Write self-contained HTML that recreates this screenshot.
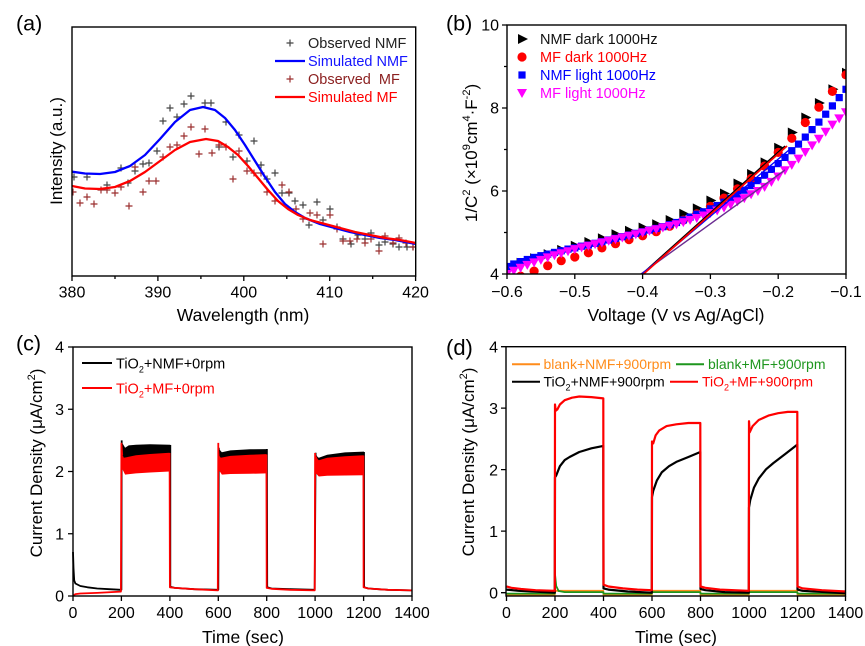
<!DOCTYPE html>
<html><head><meta charset="utf-8"><style>
html,body{margin:0;padding:0;background:#fff;}
svg{display:block;}
text{font-family:"Liberation Sans",Arial,sans-serif;}
</style></head><body>
<svg width="865" height="646" viewBox="0 0 865 646" xmlns="http://www.w3.org/2000/svg">
<defs>
<clipPath id="cb"><rect x="507" y="25" width="339" height="249"/></clipPath>
<clipPath id="ca"><rect x="72" y="27" width="344" height="249"/></clipPath>
<polygon id="tr" points="-4,-5 6,0 -4,5" fill="#000"/>
<circle id="ci" r="4.6" fill="#ff0000"/>
<rect id="sq" x="-3.6" y="-3.6" width="7.2" height="7.2" fill="#0000ff"/>
<polygon id="td" points="-5,-4 5,-4 0,5" fill="#ff00ff"/>
</defs>

<!-- ================= PANEL A ================= -->
<text x="16" y="30.5" font-size="21.5">(a)</text>
<g clip-path="url(#ca)">
<path fill="none" stroke="#444" stroke-width="1.2" d="M70.5,177h7M74,173.5v7 M83.5,177h7M87,173.5v7 M103.5,185h7M107,181.5v7 M117.5,168h7M121,164.5v7 M124.5,183h7M128,179.5v7 M131.5,171h7M135,167.5v7 M139.5,164h7M143,160.5v7 M145.5,163h7M149,159.5v7 M153.5,151h7M157,147.5v7 M159.5,121h7M163,117.5v7 M166.5,108h7M170,104.5v7 M173.5,117h7M177,113.5v7 M180.5,104h7M184,100.5v7 M187.5,96h7M191,92.5v7 M201.5,103h7M205,99.5v7 M207.5,103h7M211,99.5v7 M215.5,147h7M219,143.5v7 M222.5,122h7M226,118.5v7 M229.5,157h7M233,153.5v7 M235.5,135h7M239,131.5v7 M243.5,161h7M247,157.5v7 M250.5,141h7M254,137.5v7 M257.5,165h7M261,161.5v7 M263.5,179h7M267,175.5v7 M271.5,173h7M275,169.5v7 M278.5,193h7M282,189.5v7 M285.5,193h7M289,189.5v7 M291.5,201h7M295,197.5v7 M299.5,205h7M303,201.5v7 M305.5,225h7M309,221.5v7 M313.5,202h7M317,198.5v7 M319.5,220h7M323,216.5v7 M326.5,209h7M330,205.5v7 M333.5,227h7M337,223.5v7 M339.5,239h7M343,235.5v7 M347.5,244h7M351,240.5v7 M354.5,235h7M358,231.5v7 M361.5,239h7M365,235.5v7 M367.5,233h7M371,229.5v7 M375.5,245h7M379,241.5v7 M381.5,242h7M385,238.5v7 M389.5,244h7M393,240.5v7 M395.5,247h7M399,243.5v7 M403.5,247h7M407,243.5v7 M409.5,247h7M413,243.5v7"/>
<path fill="none" stroke="#9b2f2f" stroke-width="1.2" d="M69.5,192h7M73,188.5v7 M76.5,203h7M80,199.5v7 M83.5,197h7M87,193.5v7 M90.5,204h7M94,200.5v7 M97.5,190h7M101,186.5v7 M103.5,190h7M107,186.5v7 M111.5,193h7M115,189.5v7 M117.5,187h7M121,183.5v7 M125.5,206h7M129,202.5v7 M131.5,167h7M135,163.5v7 M139.5,192h7M143,188.5v7 M145.5,181h7M149,177.5v7 M152.5,181h7M156,177.5v7 M159.5,157h7M163,153.5v7 M166.5,147h7M170,143.5v7 M173.5,145h7M177,141.5v7 M180.5,136h7M184,132.5v7 M187.5,127h7M191,123.5v7 M195.5,154h7M199,150.5v7 M201.5,129h7M205,125.5v7 M208.5,153h7M212,149.5v7 M215.5,145h7M219,141.5v7 M222.5,147h7M226,143.5v7 M229.5,179h7M233,175.5v7 M235.5,151h7M239,147.5v7 M243.5,171h7M247,167.5v7 M250.5,173h7M254,169.5v7 M257.5,173h7M261,169.5v7 M263.5,192h7M267,188.5v7 M271.5,201h7M275,197.5v7 M278.5,185h7M282,181.5v7 M285.5,192h7M289,188.5v7 M292.5,209h7M296,205.5v7 M299.5,219h7M303,215.5v7 M306.5,213h7M310,209.5v7 M313.5,215h7M317,211.5v7 M319.5,244h7M323,240.5v7 M326.5,215h7M330,211.5v7 M333.5,229h7M337,225.5v7 M339.5,241h7M343,237.5v7 M346.5,241h7M350,237.5v7 M353.5,239h7M357,235.5v7 M361.5,243h7M365,239.5v7 M367.5,239h7M371,235.5v7 M375.5,251h7M379,247.5v7 M381.5,236h7M385,232.5v7 M389.5,243h7M393,239.5v7 M395.5,238h7M399,234.5v7 M402.5,243h7M406,239.5v7 M409.5,247h7M413,243.5v7"/>
<polyline fill="none" stroke="#0000ff" stroke-width="2.3" stroke-linejoin="round" points="72,171.7 85,173.5 100,174 115,172 130,166 145,155 160,139 175,122 190,110 203,107 215,110 225,118 235,130 245,145 255,161 265,177 275,192 285,204 295,212 305,218 320,224 335,228 350,232 365,235 380,238 395,240 416,244"/>
<polyline fill="none" stroke="#ff0000" stroke-width="2.3" stroke-linejoin="round" points="72,186 85,188.5 100,189 115,187 130,181 145,172 160,161 175,150 190,142 206,139 218,141 228,147 238,155 248,166 258,178 268,190 278,201 288,209 298,215 310,220 325,224 340,228 355,232 370,235 385,238 400,240 416,243"/>
</g>
<rect x="72" y="27" width="343.7" height="249" fill="none" stroke="#000" stroke-width="1.4"/>
<path stroke="#000" stroke-width="1.3" d="M72,276v5 M157.9,276v5 M243.8,276v5 M329.7,276v5 M415.6,276v5 M115,276v3 M200.9,276v3 M286.8,276v3 M372.7,276v3"/>
<g font-size="16" text-anchor="middle">
<text x="72" y="297.5">380</text><text x="157.9" y="297.5">390</text><text x="243.8" y="297.5">400</text><text x="329.7" y="297.5">410</text><text x="415.6" y="297.5">420</text>
</g>
<text x="243" y="321" font-size="17.5" text-anchor="middle">Wavelength (nm)</text>
<text transform="translate(62,151) rotate(-90)" font-size="17" text-anchor="middle">Intensity (a.u.)</text>
<!-- legend a -->
<path stroke="#444" stroke-width="1.2" d="M286.5,43h7M290,39.5v7"/>
<text x="308" y="48" font-size="14.5" fill="#222">Observed NMF</text>
<line x1="275" y1="61" x2="305" y2="61" stroke="#0000ff" stroke-width="2.3"/>
<text x="308" y="66" font-size="14.5" fill="#1515ff">Simulated NMF</text>
<path stroke="#9b2f2f" stroke-width="1.2" d="M286.5,79h7M290,75.5v7"/>
<text x="308" y="84" font-size="14.5" fill="#8b1f1f" xml:space="preserve">Observed  MF</text>
<line x1="275" y1="97" x2="305" y2="97" stroke="#ff0000" stroke-width="2.3"/>
<text x="308" y="102" font-size="14.5" fill="#ff0000">Simulated MF</text>

<!-- ================= PANEL B ================= -->
<text x="446" y="30.5" font-size="21.5">(b)</text>
<g clip-path="url(#cb)">
<g>
<use href="#tr" x="507" y="267.8"/><use href="#tr" x="520.6" y="262.8"/><use href="#tr" x="534.1" y="258.2"/><use href="#tr" x="547.7" y="254.1"/><use href="#tr" x="561.2" y="249.9"/><use href="#tr" x="574.8" y="245.8"/><use href="#tr" x="588.4" y="242"/><use href="#tr" x="601.9" y="238.3"/><use href="#tr" x="615.5" y="234.2"/><use href="#tr" x="629" y="230.8"/><use href="#tr" x="642.6" y="227.5"/><use href="#tr" x="656.2" y="224.2"/><use href="#tr" x="669.7" y="220"/><use href="#tr" x="683.3" y="213.8"/><use href="#tr" x="696.8" y="208.4"/><use href="#tr" x="710.4" y="200.5"/><use href="#tr" x="724" y="193.5"/><use href="#tr" x="737.5" y="183.5"/><use href="#tr" x="751.1" y="174"/><use href="#tr" x="764.6" y="162.4"/><use href="#tr" x="778.2" y="147.8"/><use href="#tr" x="791.8" y="132.5"/><use href="#tr" x="805.3" y="117.5"/><use href="#tr" x="818.9" y="103"/><use href="#tr" x="832.4" y="89.3"/><use href="#tr" x="846" y="72.7"/>
</g>
<g>
<use href="#ci" x="507" y="280.2"/><use href="#ci" x="520.6" y="276.1"/><use href="#ci" x="534.1" y="271.1"/><use href="#ci" x="547.7" y="265.7"/><use href="#ci" x="561.2" y="260.7"/><use href="#ci" x="574.8" y="257"/><use href="#ci" x="588.4" y="252.8"/><use href="#ci" x="601.9" y="247.9"/><use href="#ci" x="615.5" y="243.7"/><use href="#ci" x="629" y="239.6"/><use href="#ci" x="642.6" y="235.8"/><use href="#ci" x="656.2" y="231.7"/><use href="#ci" x="669.7" y="226.3"/><use href="#ci" x="683.3" y="220.1"/><use href="#ci" x="696.8" y="213.8"/><use href="#ci" x="710.4" y="206.4"/><use href="#ci" x="724" y="198.1"/><use href="#ci" x="737.5" y="188.9"/><use href="#ci" x="751.1" y="178.5"/><use href="#ci" x="764.6" y="166.1"/><use href="#ci" x="778.2" y="152.4"/><use href="#ci" x="791.8" y="138.3"/><use href="#ci" x="805.3" y="122.5"/><use href="#ci" x="818.9" y="107.2"/><use href="#ci" x="832.4" y="91.4"/><use href="#ci" x="846" y="74.9"/>
</g>
<g>
<use href="#sq" x="507" y="266.5"/><use href="#sq" x="513.8" y="264"/><use href="#sq" x="520.6" y="261.6"/><use href="#sq" x="527.3" y="259.5"/><use href="#sq" x="534.1" y="257.4"/><use href="#sq" x="540.9" y="255.7"/><use href="#sq" x="547.7" y="254.1"/><use href="#sq" x="554.5" y="252.4"/><use href="#sq" x="561.2" y="250.8"/><use href="#sq" x="568" y="249.1"/><use href="#sq" x="574.8" y="247.9"/><use href="#sq" x="581.6" y="246.2"/><use href="#sq" x="588.4" y="245"/><use href="#sq" x="595.1" y="243.3"/><use href="#sq" x="601.9" y="241.6"/><use href="#sq" x="608.7" y="240"/><use href="#sq" x="615.5" y="238.3"/><use href="#sq" x="622.3" y="236.7"/><use href="#sq" x="629" y="235"/><use href="#sq" x="635.8" y="233.3"/><use href="#sq" x="642.6" y="231.7"/><use href="#sq" x="649.4" y="230"/><use href="#sq" x="656.2" y="228.4"/><use href="#sq" x="662.9" y="226.7"/><use href="#sq" x="669.7" y="224.6"/><use href="#sq" x="676.5" y="222.5"/><use href="#sq" x="683.3" y="220"/><use href="#sq" x="690.1" y="217.1"/><use href="#sq" x="696.8" y="214.2"/><use href="#sq" x="703.6" y="211.8"/><use href="#sq" x="710.4" y="208.8"/><use href="#sq" x="717.2" y="205.5"/><use href="#sq" x="724" y="202.2"/><use href="#sq" x="730.7" y="198.5"/><use href="#sq" x="737.5" y="194.3"/><use href="#sq" x="744.3" y="190.2"/><use href="#sq" x="751.1" y="185.6"/><use href="#sq" x="757.9" y="180.6"/><use href="#sq" x="764.6" y="175.2"/><use href="#sq" x="771.4" y="169.4"/><use href="#sq" x="778.2" y="163.6"/><use href="#sq" x="785" y="157.4"/><use href="#sq" x="791.8" y="150.7"/><use href="#sq" x="798.5" y="144.1"/><use href="#sq" x="805.3" y="137.1"/><use href="#sq" x="812.1" y="129.6"/><use href="#sq" x="818.9" y="122.1"/><use href="#sq" x="825.7" y="114.2"/><use href="#sq" x="832.4" y="105.9"/><use href="#sq" x="839.2" y="97.6"/><use href="#sq" x="846" y="89.3"/>
</g>
<g>
<use href="#td" x="507" y="274"/><use href="#td" x="513.8" y="270.7"/><use href="#td" x="520.6" y="267.8"/><use href="#td" x="527.3" y="264.9"/><use href="#td" x="534.1" y="262.4"/><use href="#td" x="540.9" y="259.9"/><use href="#td" x="547.7" y="257.4"/><use href="#td" x="554.5" y="255.3"/><use href="#td" x="561.2" y="253.3"/><use href="#td" x="568" y="251.2"/><use href="#td" x="574.8" y="249.1"/><use href="#td" x="581.6" y="247.4"/><use href="#td" x="588.4" y="245.8"/><use href="#td" x="595.1" y="244.1"/><use href="#td" x="601.9" y="242.5"/><use href="#td" x="608.7" y="240.8"/><use href="#td" x="615.5" y="239.1"/><use href="#td" x="622.3" y="237.5"/><use href="#td" x="629" y="235.8"/><use href="#td" x="635.8" y="234.2"/><use href="#td" x="642.6" y="232.5"/><use href="#td" x="649.4" y="230.8"/><use href="#td" x="656.2" y="229.2"/><use href="#td" x="662.9" y="227.5"/><use href="#td" x="669.7" y="225.9"/><use href="#td" x="676.5" y="224.2"/><use href="#td" x="683.3" y="222.1"/><use href="#td" x="690.1" y="220"/><use href="#td" x="696.8" y="218"/><use href="#td" x="703.6" y="215.5"/><use href="#td" x="710.4" y="213"/><use href="#td" x="717.2" y="210.5"/><use href="#td" x="724" y="207.6"/><use href="#td" x="730.7" y="204.7"/><use href="#td" x="737.5" y="201.4"/><use href="#td" x="744.3" y="198.1"/><use href="#td" x="751.1" y="194.3"/><use href="#td" x="757.9" y="191"/><use href="#td" x="764.6" y="186.9"/><use href="#td" x="771.4" y="181.9"/><use href="#td" x="778.2" y="176.5"/><use href="#td" x="785" y="170.3"/><use href="#td" x="791.8" y="164.9"/><use href="#td" x="798.5" y="158.6"/><use href="#td" x="805.3" y="152"/><use href="#td" x="812.1" y="145.4"/><use href="#td" x="818.9" y="138.7"/><use href="#td" x="825.7" y="131.7"/><use href="#td" x="832.4" y="124.6"/><use href="#td" x="839.2" y="118.4"/><use href="#td" x="846" y="112.2"/>
</g>
<line x1="642" y1="274" x2="785" y2="146" stroke="#000" stroke-width="1.5"/>
<line x1="641" y1="274" x2="785" y2="170" stroke="#6a2c91" stroke-width="1.4"/>
<line x1="642" y1="274" x2="789" y2="150" stroke="#0000ff" stroke-width="1.3"/>
<line x1="643.5" y1="274" x2="787" y2="146" stroke="#ff0000" stroke-width="1.8"/>
</g>
<rect x="507" y="25" width="339" height="249" fill="none" stroke="#000" stroke-width="1.4"/>
<path stroke="#000" stroke-width="1.3" d="M507,274v5 M574.8,274v5 M642.6,274v5 M710.4,274v5 M778.2,274v5 M846,274v5 M507,274h-5 M507,191h-5 M507,108h-5 M507,25h-5 M507,232.5h-3 M507,149.5h-3 M507,66.5h-3"/>
<g font-size="16" text-anchor="middle">
<text x="507" y="297">−0.6</text><text x="574.8" y="297">−0.5</text><text x="642.6" y="297">−0.4</text><text x="710.4" y="297">−0.3</text><text x="778.2" y="297">−0.2</text><text x="846" y="297">−0.1</text>
</g>
<g font-size="16" text-anchor="end">
<text x="499" y="279.7">4</text><text x="499" y="196.7">6</text><text x="499" y="113.7">8</text><text x="499" y="30.7">10</text>
</g>
<text x="676" y="321" font-size="17.5" text-anchor="middle">Voltage (V vs Ag/AgCl)</text>
<text transform="translate(477,153) rotate(-90)" font-size="17" text-anchor="middle">1/C<tspan font-size="11" dy="-7">2</tspan><tspan dy="7"> (×10</tspan><tspan font-size="11" dy="-7">9</tspan><tspan dy="7">cm</tspan><tspan font-size="11" dy="-7">4</tspan><tspan dy="7">·F</tspan><tspan font-size="11" dy="-7">-2</tspan><tspan dy="7">)</tspan></text>
<!-- legend b -->
<use href="#tr" x="522" y="39"/>
<text x="540" y="44" font-size="14.5" fill="#111">NMF dark 1000Hz</text>
<use href="#ci" x="522" y="57"/>
<text x="540" y="62" font-size="14.5" fill="#ff0000">MF dark 1000Hz</text>
<use href="#sq" x="522" y="75"/>
<text x="540" y="80" font-size="14.5" fill="#0000ff">NMF light 1000Hz</text>
<use href="#td" x="522" y="93"/>
<text x="540" y="98" font-size="14.5" fill="#ff00ff">MF light 1000Hz</text>

<!-- ================= PANEL C ================= -->
<text x="16" y="350.5" font-size="21.5">(c)</text>
<g stroke-linejoin="round">
<polyline fill="none" stroke="#000" stroke-width="1.8" points="73,552 73.5,568 74.2,580.4 75.4,583.5 80.3,586 87.5,587.3 97.2,588.5 109.3,589.2 120.9,589.8 121.4,589.8 121.7,440.4"/>
<polygon fill="#000" points="121.2,440.4 122.6,443.5 125.1,447.8 128.7,445.4 136,444.7 150,444.2 169.9,444.7 170.3,444.7 170.3,465 121.2,465"/>
<polyline fill="none" stroke="#000" stroke-width="1.8" points="170.3,445 170.3,586.7 174.7,587.9 194.1,589.2 217.8,589.8 218.3,589.8 218.8,447.8"/>
<polygon fill="#000" points="218.3,447.8 220.7,451 221.9,452.2 230.4,450.4 250,449.3 266.9,449.1 266.9,465 218.3,465"/>
<polyline fill="none" stroke="#000" stroke-width="1.8" points="266.9,449 267.2,587.3 271.6,588.5 290,589.2 314.7,589.8 315.6,452.8"/>
<polygon fill="#000" points="315.1,452.8 317.6,457 318.8,457.8 327.2,454.7 345,452.4 364,451.6 364,465 315.1,465"/>
<polyline fill="none" stroke="#000" stroke-width="1.8" points="364,452 364.1,587.3 368.4,588.5 387.8,589.8 412,590.4"/>

<polyline fill="none" stroke="#ff0000" stroke-width="1.8" points="73,596 75.4,594.1 80.3,593.5 97.2,592.9 120.9,591.6 121.4,443.5 122.2,455"/>
<polygon fill="#ff0000" points="121.4,443.5 122.6,455 123.8,457.8 136,455.3 150,454 169.6,452.8 169.6,471.5 150,472.5 136,473.4 125.1,474.6 122.6,469.6 121.4,470"/>
<polyline fill="none" stroke="#ff0000" stroke-width="1.8" points="169.6,453 169.9,587.3 174.7,587.9 194.1,589.2 217.8,590.4 218.3,442.9"/>
<polygon fill="#ff0000" points="218.3,443 219.5,456 220.7,457.8 230.4,455.9 250,454.8 266.4,454.1 266.4,473.4 250,473.8 230.4,474 221.9,474.6 219.5,471 218.3,471"/>
<polyline fill="none" stroke="#ff0000" stroke-width="1.8" points="266.4,454.5 266.7,587.9 271.6,588.8 290,589.8 314.7,590.4 315.1,453"/>
<polygon fill="#ff0000" points="315.1,453 317.6,459 318.8,460.3 327.2,457.8 345,456.2 363.4,455.3 363.4,475.2 345,475.5 327.2,475.8 318.8,476.5 316.5,474 315.1,474"/>
<polyline fill="none" stroke="#ff0000" stroke-width="1.8" points="363.4,455.5 363.6,587.3 368.4,588.5 387.8,589.8 412,590.4"/>
</g>
<rect x="73" y="347" width="339" height="249" fill="none" stroke="#000" stroke-width="1.4"/>
<path stroke="#000" stroke-width="1.3" d="M73,596v5 M121.4,596v5 M169.9,596v5 M218.3,596v5 M266.7,596v5 M315.1,596v5 M363.6,596v5 M412,596v5 M73,596h-5 M73,533.75h-5 M73,471.5h-5 M73,409.25h-5 M73,347h-5"/>
<g font-size="16" text-anchor="middle">
<text x="73" y="618">0</text><text x="121.4" y="618">200</text><text x="169.9" y="618">400</text><text x="218.3" y="618">600</text><text x="266.7" y="618">800</text><text x="315.1" y="618">1000</text><text x="363.6" y="618">1200</text><text x="412" y="618">1400</text>
</g>
<g font-size="16" text-anchor="end">
<text x="64" y="601.7">0</text><text x="64" y="539.5">1</text><text x="64" y="477.2">2</text><text x="64" y="415">3</text><text x="64" y="352.7">4</text>
</g>
<text x="243" y="643" font-size="17.5" text-anchor="middle">Time (sec)</text>
<text transform="translate(42,463) rotate(-90)" font-size="17" text-anchor="middle">Current Density (μA/cm<tspan font-size="11" dy="-7">2</tspan><tspan dy="7">)</tspan></text>
<!-- legend c -->
<line x1="82" y1="363" x2="112" y2="363" stroke="#000" stroke-width="2"/>
<text x="116" y="368.5" font-size="14.5" fill="#000">TiO<tspan font-size="9" dy="4">2</tspan><tspan dy="-4">+NMF+0rpm</tspan></text>
<line x1="82" y1="388" x2="112" y2="388" stroke="#ff0000" stroke-width="2"/>
<text x="116" y="393.5" font-size="14.5" fill="#ff0000">TiO<tspan font-size="9" dy="4">2</tspan><tspan dy="-4">+MF+0rpm</tspan></text>

<!-- ================= PANEL D ================= -->
<text x="446" y="355" font-size="22">(d)</text>
<g fill="none" stroke-linejoin="round" stroke-width="1.8">
<polyline stroke="#ff8c1a" points="506.5,594.9 554.8,594.9 555,590.8 603.3,590.8 603.5,594.9 651.8,594.9 652,590.8 700.3,590.8 700.5,594.9 748.8,594.9 749,590.8 797.3,590.8 797.5,594.9 846,594.9"/>
<polyline stroke="#1e961e" points="506.5,593.6 554.8,593.6 555,574.2 556.2,586 558.6,591 564.7,592.1 603.3,592.1 603.5,593.6 651.8,593.6 652,592.1 700.3,592.1 700.5,593.6 748.8,593.6 749,592.1 797.3,592.1 797.5,593.6 846,593.6"/>
<polyline stroke="#000" stroke-width="2.2" points="506.5,589.6 518.6,590.8 554.8,592.7 555,477.3 556.2,475.5 559.9,466.2 564.7,460.1 569.6,457 579.3,452 591.4,448.3 603.3,445.9 603.5,588.4 608.4,589.6 627.8,591.5 651.8,592.7 652,497.1 653.2,490.9 656.9,480.4 661.7,472.4 669,466.2 676.3,461.9 688.4,457 700.3,452 700.5,589 705.4,590.2 724.8,592.1 748.8,592.7 749,507.5 750.2,500.2 753.9,487.8 758.7,478.6 766,469.3 773.3,463.1 785.4,453.9 797.3,444.6 797.5,589.6 802.4,590.8 846,593.3"/>
<polyline stroke="#ff0000" stroke-width="2.2" points="506.5,586.5 511.4,587.8 521,589 535.6,590.2 554.8,590.8 555,404.5 555.7,410.7 557.4,409.4 559.9,404.5 564.7,400.2 572,397.7 579.3,396.5 591.4,397.1 603.3,398.4 603.5,584.7 608.4,586.5 622.9,588.4 637.5,589.6 651.8,590.2 652,441.5 653.2,443.4 655.6,435.4 659.3,430.4 666.6,426.1 676.3,424.3 688.4,423 700.3,423 700.5,586.5 705.4,587.8 719.9,589.6 748.8,590.8 749,421.2 749.7,432.3 752.6,426.1 758.7,420 768.4,415.6 778.1,413.2 787.8,411.9 797.3,411.9 797.5,586.5 802.4,588.4 821.8,590.2 846,591.5"/>
</g>
<rect x="506" y="346.7" width="339.5" height="249.3" fill="none" stroke="#000" stroke-width="1.4"/>
<path stroke="#000" stroke-width="1.3" d="M506.5,596v5 M555,596v5 M603.5,596v5 M652,596v5 M700.5,596v5 M749,596v5 M797.5,596v5 M845.5,596v5 M506,592.7h-5 M506,531.1h-5 M506,469.6h-5 M506,408.1h-5 M506,346.7h-5"/>
<g font-size="16" text-anchor="middle">
<text x="506.5" y="618">0</text><text x="555" y="618">200</text><text x="603.5" y="618">400</text><text x="652" y="618">600</text><text x="700.5" y="618">800</text><text x="749" y="618">1000</text><text x="797.5" y="618">1200</text><text x="845.5" y="618">1400</text>
</g>
<g font-size="16" text-anchor="end">
<text x="498" y="598.4">0</text><text x="498" y="536.8">1</text><text x="498" y="475.3">2</text><text x="498" y="413.8">3</text><text x="498" y="352.4">4</text>
</g>
<text x="676" y="643" font-size="17.5" text-anchor="middle">Time (sec)</text>
<text transform="translate(474,462) rotate(-90)" font-size="17" text-anchor="middle">Current Density (μA/cm<tspan font-size="11" dy="-7">2</tspan><tspan dy="7">)</tspan></text>
<!-- legend d -->
<line x1="512" y1="364.3" x2="540" y2="364.3" stroke="#ff8c1a" stroke-width="2"/>
<text x="543.5" y="369" font-size="14" fill="#ff8c1a">blank+NMF+900rpm</text>
<line x1="676" y1="364.3" x2="704" y2="364.3" stroke="#1e961e" stroke-width="2"/>
<text x="708" y="369" font-size="14" fill="#1e961e">blank+MF+900rpm</text>
<line x1="512" y1="381.7" x2="540" y2="381.7" stroke="#000" stroke-width="2"/>
<text x="543.5" y="386.5" font-size="14" fill="#000">TiO<tspan font-size="9" dy="4">2</tspan><tspan dy="-4">+NMF+900rpm</tspan></text>
<line x1="670" y1="381.7" x2="698" y2="381.7" stroke="#ff0000" stroke-width="2"/>
<text x="702" y="386.5" font-size="14" fill="#ff0000">TiO<tspan font-size="9" dy="4">2</tspan><tspan dy="-4">+MF+900rpm</tspan></text>
</svg>
</body></html>
